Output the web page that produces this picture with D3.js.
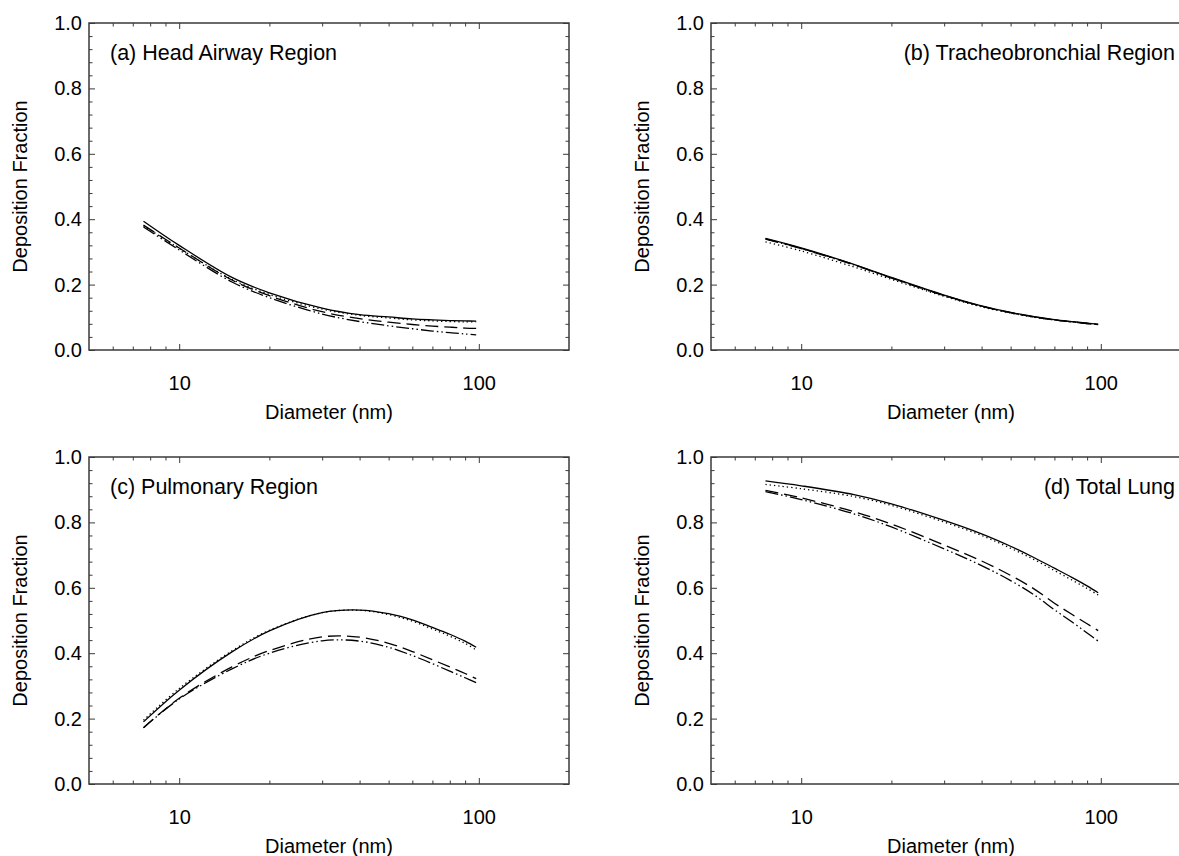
<!DOCTYPE html>
<html>
<head>
<meta charset="utf-8">
<script src="https://cdn.jsdelivr.net/npm/d3@7"></script>
<style>
  html, body { margin: 0; padding: 0; background: #fff; }
  svg { display: block; }
  text { font-family: "Liberation Sans", Arial, sans-serif; fill: #000; }
</style>
</head>
<body>
<svg id="chart" width="1179" height="856"></svg>
<script>
// Particle diameters (nm) at which the deposition fractions are tabulated
const diameters = [7.6, 10, 15, 20, 30, 40, 50, 60, 70, 80, 90, 98];

// (a) Head airway region
const headSolid   = [0.394, 0.320, 0.222, 0.175, 0.128, 0.108, 0.101, 0.095, 0.092, 0.090, 0.089, 0.088];
const headDotted  = [0.380, 0.311, 0.216, 0.170, 0.125, 0.106, 0.098, 0.092, 0.089, 0.087, 0.086, 0.086];
const headDashed  = [0.382, 0.312, 0.214, 0.166, 0.117, 0.096, 0.085, 0.078, 0.073, 0.070, 0.067, 0.066];
const headDashDot = [0.376, 0.306, 0.208, 0.160, 0.110, 0.087, 0.074, 0.065, 0.058, 0.053, 0.049, 0.046];

// (b) Tracheobronchial region
const tbSolid   = [0.341, 0.312, 0.262, 0.222, 0.168, 0.135, 0.115, 0.102, 0.093, 0.087, 0.082, 0.079];
const tbDotted  = [0.331, 0.303, 0.254, 0.216, 0.164, 0.132, 0.113, 0.100, 0.092, 0.086, 0.081, 0.078];
const tbDashed  = [0.340, 0.311, 0.261, 0.221, 0.167, 0.134, 0.114, 0.101, 0.092, 0.086, 0.081, 0.078];
const tbDashDot = [0.339, 0.310, 0.260, 0.220, 0.166, 0.134, 0.114, 0.101, 0.092, 0.086, 0.081, 0.078];

// (c) Pulmonary region
const pulSolid   = [0.190, 0.287, 0.404, 0.468, 0.524, 0.532, 0.521, 0.502, 0.479, 0.458, 0.437, 0.418];
const pulDotted  = [0.195, 0.292, 0.407, 0.470, 0.524, 0.531, 0.518, 0.498, 0.474, 0.452, 0.430, 0.410];
const pulDashed  = [0.172, 0.262, 0.358, 0.408, 0.450, 0.449, 0.430, 0.405, 0.380, 0.358, 0.338, 0.322];
const pulDashDot = [0.172, 0.260, 0.352, 0.400, 0.438, 0.437, 0.418, 0.393, 0.368, 0.345, 0.325, 0.310];

// (d) Total lung
const totSolid   = [0.927, 0.912, 0.885, 0.857, 0.806, 0.765, 0.727, 0.692, 0.660, 0.632, 0.606, 0.585];
const totDotted  = [0.916, 0.903, 0.879, 0.852, 0.801, 0.760, 0.721, 0.686, 0.653, 0.624, 0.598, 0.578];
const totDashed  = [0.898, 0.875, 0.833, 0.795, 0.731, 0.682, 0.638, 0.596, 0.553, 0.519, 0.490, 0.469];
const totDashDot = [0.894, 0.870, 0.826, 0.786, 0.719, 0.668, 0.622, 0.578, 0.533, 0.496, 0.462, 0.437];

// Panel titles
const panelTitles = ["(a) Head Airway Region", "(b) Tracheobronchial Region",
                     "(c) Pulmonary Region", "(d) Total Lung"];

// Axis ticks and labels
const xDomain = [5, 200];
const yDomain = [0, 1];
const xMajorTicks = [10, 100];
const xMinorTicks = [6, 7, 8, 9, 20, 30, 40, 50, 60, 70, 80, 90];
const yMajorTicks = [0, 0.2, 0.4, 0.6, 0.8, 1.0];
const yMinorTicks = [0.04, 0.08, 0.12, 0.16, 0.24, 0.28, 0.32, 0.36, 0.44, 0.48, 0.52, 0.56,
                     0.64, 0.68, 0.72, 0.76, 0.84, 0.88, 0.92, 0.96];
const xAxisTitle = "Diameter (nm)";
const yAxisTitle = "Deposition Fraction";

// ---------------------------------------------------------------------------
const panelSeries = [
  [headSolid, headDotted, headDashed, headDashDot],
  [tbSolid, tbDotted, tbDashed, tbDashDot],
  [pulSolid, pulDotted, pulDashed, pulDashDot],
  [totSolid, totDotted, totDashed, totDashDot]
];

// line styles: solid, dotted, long dash, dash-dot-dot
const dashStyles = [null, "1.3,3", "13,6", "13,3,1.5,3,1.5,3"];

const W = 480, H = 327;
const origins = [
  { left: 89,  top: 23 },
  { left: 711, top: 23 },
  { left: 89,  top: 457 },
  { left: 711, top: 457 }
];
const titleRight = [false, true, false, true];

const frameColor = "#3a3a3a";
const fontSize = 20;

const svg = d3.select("#chart");

panelSeries.forEach((series, i) => {
  const o = origins[i];
  const g = svg.append("g").attr("transform", `translate(${o.left},${o.top})`);

  const x = d3.scaleLog().domain(xDomain).range([0, W]);
  const y = d3.scaleLinear().domain(yDomain).range([H, 0]);

  // curves
  const line = d3.line()
    .x(d => x(d[0]))
    .y(d => y(d[1]))
    .curve(d3.curveCatmullRom.alpha(0.5));

  series.forEach((vals, k) => {
    const pts = diameters.map((dm, j) => [dm, vals[j]]);
    g.append("path")
      .datum(pts)
      .attr("d", line)
      .attr("fill", "none")
      .attr("stroke", "#000")
      .attr("stroke-width", 1.3)
      .attr("stroke-dasharray", dashStyles[k]);
  });

  // tick marks pointing inward on all four sides
  const addAxis = (axis, transform, labelled) => {
    const a = g.append("g").attr("transform", transform).call(axis);
    a.select(".domain").remove();
    a.selectAll(".tick line").attr("stroke", frameColor).attr("stroke-width", 1);
    a.selectAll(".tick text")
      .attr("font-size", fontSize)
      .attr("font-family", "Liberation Sans, Arial, sans-serif")
      .attr("fill", "#000");
    if (!labelled) a.selectAll(".tick text").remove();
    return a;
  };

  addAxis(d3.axisBottom(x).tickValues(xMajorTicks).tickFormat(d3.format("d"))
            .tickSize(-6).tickPadding(26), `translate(0,${H})`, true);
  addAxis(d3.axisBottom(x).tickValues(xMinorTicks).tickSize(-3.5), `translate(0,${H})`, false);
  addAxis(d3.axisTop(x).tickValues(xMajorTicks).tickSize(-6), "translate(0,0)", false);
  addAxis(d3.axisTop(x).tickValues(xMinorTicks).tickSize(-3.5), "translate(0,0)", false);

  addAxis(d3.axisLeft(y).tickValues(yMajorTicks).tickFormat(d3.format(".1f"))
            .tickSize(-6).tickPadding(7), "translate(0,0)", true);
  addAxis(d3.axisLeft(y).tickValues(yMinorTicks).tickSize(-3.5), "translate(0,0)", false);
  addAxis(d3.axisRight(y).tickValues(yMajorTicks).tickSize(-6), `translate(${W},0)`, false);
  addAxis(d3.axisRight(y).tickValues(yMinorTicks).tickSize(-3.5), `translate(${W},0)`, false);

  // frame
  g.append("rect")
    .attr("x", 0).attr("y", 0).attr("width", W).attr("height", H)
    .attr("fill", "none").attr("stroke", frameColor).attr("stroke-width", 1.5);

  // panel title
  g.append("text")
    .attr("x", titleRight[i] ? W - 16 : 21)
    .attr("y", 29)
    .attr("dy", "0.36em")
    .attr("text-anchor", titleRight[i] ? "end" : "start")
    .attr("font-size", 21.5)
    .text(panelTitles[i]);

  // axis titles
  g.append("text")
    .attr("x", W / 2)
    .attr("y", H + 62)
    .attr("dy", "0.36em")
    .attr("text-anchor", "middle")
    .attr("font-size", fontSize)
    .text(xAxisTitle);

  g.append("text")
    .attr("transform", `translate(${-69},${H / 2}) rotate(-90)`)
    .attr("dy", "0.36em")
    .attr("text-anchor", "middle")
    .attr("font-size", fontSize)
    .text(yAxisTitle);
});
</script>
</body>
</html>
